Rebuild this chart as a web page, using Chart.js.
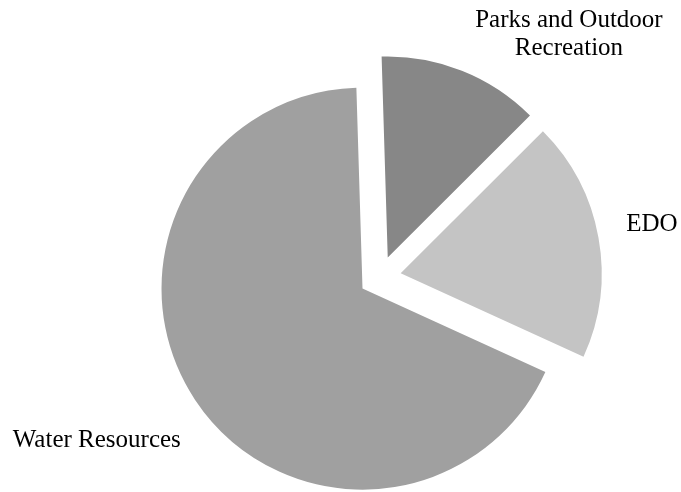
<!DOCTYPE html>
<html>
<head>
<meta charset="utf-8">
<script src="https://cdn.jsdelivr.net/npm/chart.js@4/dist/chart.umd.min.js"></script>
<style>
  html, body { margin: 0; padding: 0; background: #fff; }
  #wrap { width: 681px; height: 492px; }
</style>
</head>
<body>
<div id="wrap"><canvas id="pieChart" width="681" height="492"></canvas></div>
<script>
// data (share of total, %)
const categories = ['Parks and Outdoor Recreation', 'EDO', 'Water Resources'];
const shares = [13.0, 19.3, 67.7];
const sliceColors = ['#878787', '#c4c4c4', '#a0a0a0'];

// label lines, placed relative to pie centre in units of radius
const labelLines = [['Parks and Outdoor', 'Recreation'], ['EDO'], ['Water Resources']];
const labelPos = [
  { kx: 0.940, ky: -1.244 },
  { kx: 1.353, ky: -0.229 },
  { kx: -1.409, ky: 0.844 },
];

const EXPLODE = 21;

// every slice is pulled out along its mid angle
const explodePlugin = {
  id: 'explode',
  beforeDatasetDraw(chart, args) {
    const ctx = chart.ctx;
    args.meta.data.forEach((arc) => {
      const mid = (arc.startAngle + arc.endAngle) / 2;
      ctx.save();
      ctx.translate(Math.cos(mid) * EXPLODE, Math.sin(mid) * EXPLODE);
      arc.draw(ctx);
      ctx.restore();
    });
    return false;
  },
};

const labelPlugin = {
  id: 'sliceLabels',
  afterDraw(chart) {
    const ctx = chart.ctx;
    const arc = chart.getDatasetMeta(0).data[0];
    const r = arc.outerRadius;
    ctx.save();
    ctx.fillStyle = '#000';
    ctx.font = '25px "Liberation Serif", "Times New Roman", serif';
    ctx.textAlign = 'center';
    ctx.textBaseline = 'alphabetic';
    labelLines.forEach((lines, i) => {
      const x = arc.x + labelPos[i].kx * r;
      const y = arc.y + labelPos[i].ky * r;
      lines.forEach((line, j) => ctx.fillText(line, x, y + j * 28));
    });
    ctx.restore();
  },
};

const canvas = document.getElementById('pieChart');
new Chart(canvas, {
  type: 'pie',
  data: {
    labels: categories,
    datasets: [
      {
        data: shares,
        backgroundColor: sliceColors,
        borderWidth: 0,
      },
    ],
  },
  options: {
    responsive: false,
    animation: false,
    rotation: -1.75,
    radius: 201,
    layout: { padding: { left: 79, top: 62, right: 0, bottom: 0 } },
    plugins: {
      legend: { display: false },
      tooltip: { enabled: false },
    },
  },
  plugins: [explodePlugin, labelPlugin],
});
</script>
</body>
</html>
